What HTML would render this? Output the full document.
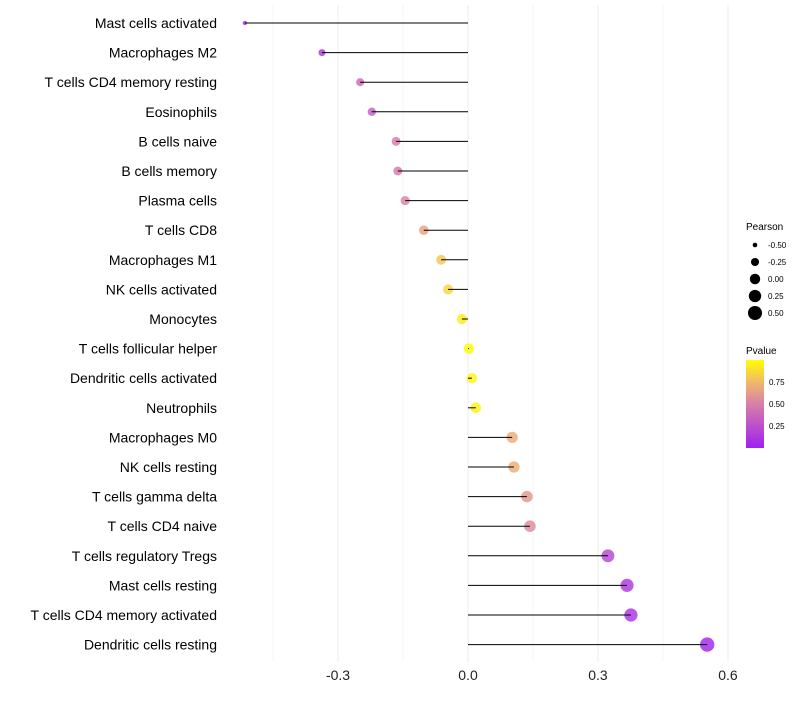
<!DOCTYPE html>
<html><head><meta charset="utf-8"><style>
body{margin:0;background:#fff;font-family:"Liberation Sans",sans-serif}
</style></head><body>
<svg id="chart" width="800" height="700" xmlns="http://www.w3.org/2000/svg" font-family="Liberation Sans, sans-serif">
<g id="grid"></g><g id="dots"></g><g id="marks"></g><g id="ylabels"></g><g id="xticks"></g>
<g>
<text x="746" y="230" font-size="10">Pearson</text>
<g id="sizeleg"></g>
</g>
<g>
<text x="746" y="354" font-size="10">Pvalue</text>
<defs><linearGradient id="pg" x1="0" y1="1" x2="0" y2="0">
<stop offset="0" stop-color="#a020f0"/><stop offset="0.5" stop-color="#d87fa8"/><stop offset="0.75" stop-color="#f0b96a"/><stop offset="1" stop-color="#ffff00"/></linearGradient></defs>
<rect x="746" y="360" width="18" height="88" fill="url(#pg)"/>
<text x="769" y="385" font-size="8">0.75</text>
<text x="769" y="407" font-size="8">0.50</text>
<text x="769" y="429" font-size="8">0.25</text>
</g>
</svg>
<script>
const categories=["Mast cells activated","Macrophages M2","T cells CD4 memory resting","Eosinophils","B cells naive","B cells memory","Plasma cells","T cells CD8","Macrophages M1","NK cells activated","Monocytes","T cells follicular helper","Dendritic cells activated","Neutrophils","Macrophages M0","NK cells resting","T cells gamma delta","T cells CD4 naive","T cells regulatory  Tregs ","Mast cells resting","T cells CD4 memory activated","Dendritic cells resting"];
const pearson=[-0.515,-0.337,-0.249,-0.222,-0.166,-0.162,-0.145,-0.102,-0.062,-0.046,-0.014,0.002,0.009,0.018,0.102,0.106,0.136,0.143,0.323,0.367,0.376,0.552];
const pvalue=[0.03,0.12,0.38,0.32,0.47,0.47,0.52,0.65,0.8,0.85,0.93,0.99,0.97,0.95,0.7,0.7,0.6,0.55,0.2,0.12,0.1,0.03];
const xTicks=[-0.3,0,0.3,0.6];
const xTickLabels=["-0.3","0.0","0.3","0.6"];
const sizeLegend=[-0.5,-0.25,0,0.25,0.5];
const sizeLegendLabels=["-0.50","-0.25","0.00","0.25","0.50"];
const NS="http://www.w3.org/2000/svg";
const X=v=>468+v*433.3, Y=i=>23+i*29.6;
const R=v=>Math.sqrt(Math.max(0.5,(v+0.62)*44));
function col(p){const st=[[0,[160,32,240]],[0.5,[216,127,168]],[0.75,[240,185,106]],[1,[255,255,0]]];
for(let k=1;k<st.length;k++){if(p<=st[k][0]){const [a,ca]=st[k-1],[b,cb]=st[k];const t=(p-a)/(b-a);return`rgb(${ca.map((c,j)=>Math.round(c+(cb[j]-c)*t)).join(',')})`;}}return"rgb(255,255,0)";}
function mk(t,at,parent){const e=document.createElementNS(NS,t);for(const k in at)e.setAttribute(k,at[k]);document.getElementById(parent).appendChild(e);return e;}
[-0.45,-0.15,0.15,0.45].forEach(v=>{const l=mk('line',{x1:X(v),x2:X(v),y1:5,y2:662,stroke:'#f5f5f5','stroke-width':1},'grid');

});
xTicks.forEach((v,i)=>{const l=mk('line',{x1:X(v),x2:X(v),y1:5,y2:662,stroke:'#eeeeee','stroke-width':1},'grid');


const t=mk('text',{x:X(v),y:680,'font-size':14,'text-anchor':'middle',fill:'#222'},'xticks');t.textContent=xTickLabels[i];

});
categories.forEach((c,i)=>{const y=Y(i);
const d=mk('circle',{cx:X(pearson[i]),cy:y,r:R(pearson[i]),fill:col(pvalue[i]),'fill-opacity':0.82},'dots');


const l=mk('line',{x1:X(0),x2:X(pearson[i]),y1:y,y2:y,stroke:'#000','stroke-width':1},'marks');


const t=mk('text',{x:217,y:y+5,'font-size':14,'text-anchor':'end',fill:'#000'},'ylabels');t.textContent=c;

});
sizeLegend.forEach((v,i)=>{const y=245+i*17;
const d=mk('circle',{cx:755,cy:y,r:R(v),fill:'#000'},'sizeleg');


const t=mk('text',{x:768,y:y+3,'font-size':8},'sizeleg');t.textContent=sizeLegendLabels[i];

});
</script>
</body></html>
